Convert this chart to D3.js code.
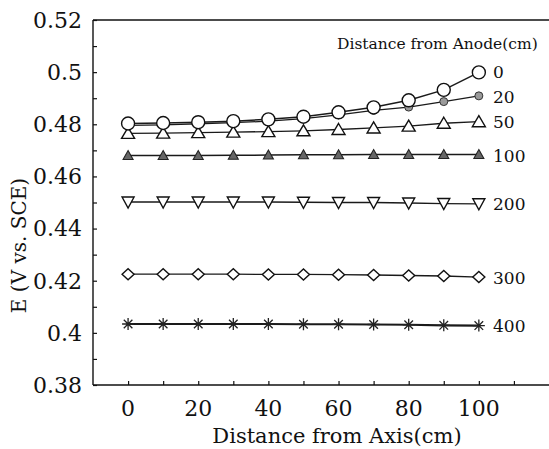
<!DOCTYPE html>
<html>
<head>
<meta charset="utf-8">
<script src="https://cdn.jsdelivr.net/npm/d3@7"></script>
<style>
  html, body { margin: 0; padding: 0; background: #fff; }
</style>
</head>
<body>
<svg id="chart" width="549" height="449"></svg>
<script>
// Potential along the axis for several distances from the anode
const positions = [0, 10, 20, 30, 40, 50, 60, 70, 80, 90, 100];
const seriesNames = ["0", "20", "50", "100", "200", "300", "400"];
const e0   = [0.4803, 0.4805, 0.4808, 0.4812, 0.4819, 0.4829, 0.4846, 0.4865, 0.4892, 0.4932, 0.4999];
const e20  = [0.4796, 0.4798, 0.4802, 0.4806, 0.4812, 0.4822, 0.4836, 0.4853, 0.4866, 0.4887, 0.4909];
const e50  = [0.4765, 0.4766, 0.4768, 0.4770, 0.4772, 0.4775, 0.4780, 0.4786, 0.4793, 0.4804, 0.4810];
const e100 = [0.4680, 0.4680, 0.4680, 0.4681, 0.4682, 0.4683, 0.4683, 0.4684, 0.4684, 0.4684, 0.4684];
const e200 = [0.4502, 0.4502, 0.4502, 0.4502, 0.4502, 0.4501, 0.4500, 0.4500, 0.4498, 0.4496, 0.4495];
const e300 = [0.4225, 0.4225, 0.4225, 0.4225, 0.4224, 0.4224, 0.4223, 0.4222, 0.4220, 0.4218, 0.4214];
const e400 = [0.4034, 0.4034, 0.4034, 0.4034, 0.4034, 0.4033, 0.4033, 0.4032, 0.4031, 0.4029, 0.4028];
const xTickLabels = [0, 20, 40, 60, 80, 100];
const yTickLabels = [0.38, 0.40, 0.42, 0.44, 0.46, 0.48, 0.50, 0.52];

const serif = "'DejaVu Serif'";
const svg = d3.select("#chart").style("font-family", serif);
const plotLeft = 93, plotRight = 549, plotTop = 20, plotBottom = 385;

const x = d3.scaleLinear().domain([-10, 120]).range([plotLeft, plotRight]);
const y = d3.scaleLinear().domain([0.38, 0.52]).range([plotBottom, plotTop]);

// frame: left, top and bottom edges
const frame = svg.append("g").attr("stroke", "#111").attr("stroke-width", 1.4).attr("fill", "none");
frame.append("line").attr("x1", plotLeft).attr("x2", plotLeft).attr("y1", plotTop).attr("y2", plotBottom);
frame.append("line").attr("x1", plotLeft).attr("x2", plotRight).attr("y1", plotTop).attr("y2", plotTop);
frame.append("line").attr("x1", plotLeft).attr("x2", plotRight).attr("y1", plotBottom).attr("y2", plotBottom);

// inward ticks
const yAxis = d3.axisLeft(y).tickValues(d3.range(0.38, 0.5201, 0.01)).tickSize(-4).tickFormat("");
svg.append("g").attr("transform", `translate(${plotLeft},0)`).call(yAxis)
  .call(g => g.select(".domain").remove())
  .call(g => g.selectAll("line").attr("stroke", "#111").attr("stroke-width", 1.2));
const xAxis = d3.axisBottom(x).tickValues(d3.range(0, 111, 10)).tickSize(-4).tickFormat("");
svg.append("g").attr("transform", `translate(0,${plotBottom})`).call(xAxis)
  .call(g => g.select(".domain").remove())
  .call(g => g.selectAll("line").attr("stroke", "#111").attr("stroke-width", 1.2));

// tick labels
svg.append("g").selectAll("text").data(yTickLabels).join("text")
  .style("font-family", serif)
  .attr("x", plotLeft - 11).attr("y", d => y(d)).attr("dy", "0.36em")
  .attr("text-anchor", "end").attr("font-size", 22).attr("fill", "#111")
  .text(d => String(+d.toFixed(2)));
svg.append("g").selectAll("text").data(xTickLabels).join("text")
  .style("font-family", serif)
  .attr("x", d => x(d)).attr("y", 416)
  .attr("text-anchor", "middle").attr("font-size", 22).attr("fill", "#111")
  .text(d => d);

// axis titles
svg.append("text").style("font-family", serif)
  .attr("transform", `translate(26,${(plotTop + plotBottom) / 2 + 43}) rotate(-90)`)
  .attr("text-anchor", "middle").attr("font-size", 20).attr("fill", "#111")
  .text("E (V vs. SCE)");
svg.append("text").style("font-family", serif).attr("x", 337).attr("y", 443)
  .attr("text-anchor", "middle").attr("font-size", 21).attr("fill", "#111")
  .text("Distance from Axis(cm)");

// legend heading
svg.append("text").style("font-family", serif).attr("x", 337).attr("y", 49)
  .attr("font-size", 15.5).attr("fill", "#111")
  .text("Distance from Anode(cm)");

const series = [
  { name: seriesNames[0], values: e0,   marker: "circle",  width: 1.5 },
  { name: seriesNames[1], values: e20,  marker: "dot",     width: 1.3 },
  { name: seriesNames[2], values: e50,  marker: "tri",     width: 1.3 },
  { name: seriesNames[3], values: e100, marker: "triFill", width: 1.5 },
  { name: seriesNames[4], values: e200, marker: "triDown", width: 1.3 },
  { name: seriesNames[5], values: e300, marker: "diamond", width: 1.3 },
  { name: seriesNames[6], values: e400, marker: "star",    width: 2.2 }
];

const line = d3.line().x(d => x(d[0])).y(d => y(d[1]));

// draw lower series first so the 0 cm circles sit on top
const drawOrder = [6, 5, 4, 3, 2, 1, 0];
drawOrder.forEach(i => {
  const s = series[i];
  const pts = positions.map((p, k) => [p, s.values[k]]);
  const g = svg.append("g");
  g.append("path").datum(pts).attr("d", line)
    .attr("fill", "none").attr("stroke", "#1a1a1a").attr("stroke-width", s.width);

  const m = g.selectAll("g.m").data(pts).join("g")
    .attr("transform", d => `translate(${x(d[0])},${y(d[1])})`);
  switch (s.marker) {
    case "circle":
      m.append("circle").attr("r", 6.5).attr("fill", "#fff").attr("stroke", "#111").attr("stroke-width", 1.4);
      break;
    case "dot":
      m.append("circle").attr("r", 4).attr("fill", "#9a9a9a").attr("stroke", "#333").attr("stroke-width", 1);
      break;
    case "tri":
      m.append("path").attr("d", "M0,-6L6.5,5L-6.5,5Z").attr("fill", "#fff").attr("stroke", "#111").attr("stroke-width", 1.4);
      break;
    case "triFill":
      m.append("path").attr("d", "M0,-5L5,4L-5,4Z").attr("fill", "#666").attr("stroke", "#222").attr("stroke-width", 1.1);
      break;
    case "triDown":
      m.append("path").attr("d", "M-6,-5L6,-5L0,6Z").attr("fill", "#fff").attr("stroke", "#111").attr("stroke-width", 1.4);
      break;
    case "diamond":
      m.append("path").attr("d", "M-6,0L0,-5.5L6,0L0,5.5Z").attr("fill", "#fff").attr("stroke", "#111").attr("stroke-width", 1.4);
      break;
    case "star":
      m.append("path").attr("d", "M-6,0H6M0,-6V6M-4.3,-4.3L4.3,4.3M-4.3,4.3L4.3,-4.3")
        .attr("fill", "none").attr("stroke", "#222").attr("stroke-width", 1.3);
      break;
  }
});

// series labels at the right end
const labelOffsets = { "0": 0, "20": 1, "50": 0, "100": 2, "200": 0, "300": 1, "400": 0 };
svg.append("g").selectAll("text").data(series).join("text")
  .style("font-family", serif)
  .attr("x", 493)
  .attr("y", d => y(d.values[d.values.length - 1]) + labelOffsets[d.name])
  .attr("dy", "0.35em").attr("font-size", 17).attr("fill", "#111")
  .text(d => d.name);
</script>
</body>
</html>
